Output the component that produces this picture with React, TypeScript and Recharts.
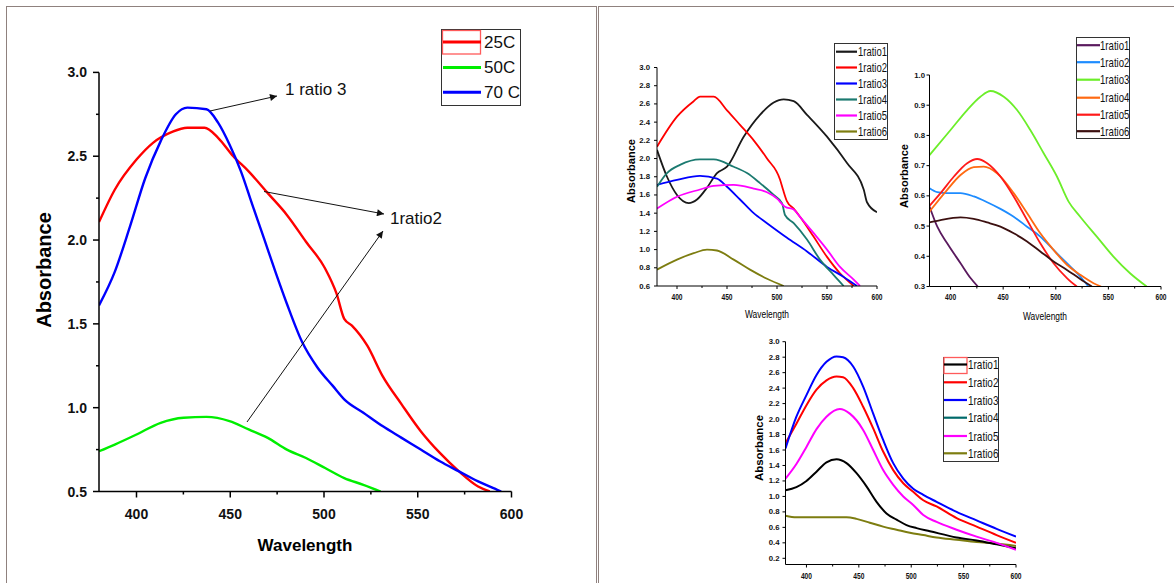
import React from 'react';
import { LineChart, Line, XAxis, YAxis, Legend } from 'recharts';

const PAGE_W = 1174;
const PAGE_H = 583;
const SANS = '"Liberation Sans", Arial, Helvetica, sans-serif';

// ---------- Panel A (temperature) ----------
const aNames = ['25C', '50C', '70 C'];
const aColors = ['#ff0000', '#00ee00', '#0000ff'];
const a25X = [380, 388.4, 400, 408.8, 419, 427.1, 436.3, 443.5, 451.6, 459.8, 470, 480.2, 490.4, 500.6, 506.7, 510.8, 514.9, 523.1, 531.2, 541.4, 551.6, 561.8, 572, 582.2, 588.4];
const a25Y = [2.107, 2.3, 2.48, 2.58, 2.645, 2.67, 2.67, 2.61, 2.5, 2.41, 2.28, 2.15, 1.99, 1.83, 1.68, 1.53, 1.49, 1.37, 1.19, 1.02, 0.86, 0.73, 0.62, 0.53, 0.5];
const a50X = [380, 388.4, 400, 412.9, 425.1, 437.3, 449.6, 459.8, 470, 480.2, 490.4, 500.6, 510.8, 521, 530.2];
const a50Y = [0.74, 0.78, 0.84, 0.91, 0.94, 0.945, 0.92, 0.87, 0.82, 0.75, 0.7, 0.64, 0.58, 0.54, 0.5];
const a70X = [380, 388.4, 396.5, 404.7, 412.9, 421, 427.1, 437.3, 443.5, 449.6, 455.7, 461.8, 468, 474.1, 480.2, 488.4, 496.5, 504.7, 510.8, 521, 531.2, 541.4, 551.6, 561.8, 572, 582.2, 592.4, 594.5];
const a70Y = [1.61, 1.81, 2.08, 2.37, 2.59, 2.75, 2.79, 2.78, 2.7, 2.57, 2.41, 2.21, 2.01, 1.81, 1.62, 1.39, 1.24, 1.13, 1.05, 0.97, 0.89, 0.82, 0.75, 0.68, 0.62, 0.56, 0.51, 0.5];
const aXMajor = [400, 450, 500, 550, 600];
const aXMinor = [425, 475, 525, 575];
const aYMajor = [0.5, 1.0, 1.5, 2.0, 2.5, 3.0];
const aYMinor = [0.75, 1.25, 1.75, 2.25, 2.75];

// ---------- Panel B (top middle) ----------
const bNames = ['1ratio1', '1ratio2', '1ratio3', '1ratio4', '1ratio5', '1ratio6'];
const bColors = ['#1a1a1a', '#ff0000', '#0000ff', '#1b7a70', '#ff00ff', '#7d7d10'];
const b1X = [380, 390, 400, 411.7, 420, 430, 440, 450, 466.7, 483, 496.7, 506.7, 516.7, 530, 550, 570, 586.7, 590, 600];
const b1Y = [2.095, 1.8, 1.6, 1.51, 1.55, 1.68, 1.84, 1.91, 2.24, 2.48, 2.615, 2.65, 2.63, 2.48, 2.24, 1.95, 1.66, 1.52, 1.41];
const b2X = [380, 400, 416.7, 423, 436.7, 450, 463, 476.7, 490, 503, 506, 510, 516.7, 523, 536.7, 550, 563, 576.7];
const b2Y = [2.13, 2.46, 2.63, 2.68, 2.68, 2.53, 2.37, 2.2, 2.0, 1.77, 1.66, 1.53, 1.45, 1.36, 1.14, 0.92, 0.74, 0.6];
const b3X = [380, 400, 423, 440, 450, 463, 476.7, 490, 510, 530, 550, 566.7, 580];
const b3Y = [1.71, 1.765, 1.81, 1.78, 1.69, 1.55, 1.4, 1.29, 1.13, 0.98, 0.81, 0.7, 0.6];
const b4X = [380, 390, 403, 423, 436.7, 456.7, 470, 483, 496.7, 505, 508, 516.7, 530, 543, 556.7, 566.7];
const b4Y = [1.69, 1.84, 1.93, 1.99, 1.99, 1.91, 1.84, 1.73, 1.6, 1.51, 1.38, 1.29, 1.11, 0.89, 0.72, 0.6];
const b5X = [380, 400, 423, 436.7, 456.7, 476.7, 490, 500, 508, 516.7, 523, 536.7, 550, 563, 576.7, 583];
const b5Y = [1.45, 1.58, 1.66, 1.7, 1.71, 1.67, 1.63, 1.56, 1.47, 1.44, 1.36, 1.18, 1.0, 0.81, 0.67, 0.6];
const b6X = [380, 400, 416.7, 430, 440, 456.7, 473, 490, 506.7];
const b6Y = [0.78, 0.89, 0.96, 1.0, 0.99, 0.89, 0.78, 0.68, 0.6];
const bYMajor = [0.6, 0.8, 1.0, 1.2, 1.4, 1.6, 1.8, 2.0, 2.2, 2.4, 2.6, 2.8, 3.0];

// ---------- Panel C (top right) ----------
const cNames = ['1ratio1', '1ratio2', '1ratio3', '1ratio4', '1ratio5', '1ratio6'];
const cColors = ['#5a1a5e', '#1e8cff', '#6cee2a', '#ff6a12', '#ff1a1a', '#3c1010'];
const c1X = [380, 387.4, 396.8, 409.5, 419, 425.9];
const c1Y = [0.565, 0.498, 0.443, 0.377, 0.328, 0.3];
const c2X = [380, 387.4, 396.8, 409.5, 422.1, 434.8, 447.4, 460, 472.7, 485.3, 497.9, 510.6, 523.2, 531];
const c2Y = [0.625, 0.612, 0.609, 0.609, 0.598, 0.579, 0.557, 0.531, 0.498, 0.465, 0.421, 0.377, 0.333, 0.3];
const c3X = [380, 400, 415.8, 428.4, 437.9, 450.6, 463.2, 475.8, 488.5, 501.1, 512.2, 523.2, 539, 554.8, 570.6, 586.4];
const c3Y = [0.735, 0.818, 0.884, 0.928, 0.947, 0.928, 0.884, 0.818, 0.741, 0.664, 0.581, 0.531, 0.465, 0.399, 0.344, 0.3];
const c4X = [380, 396.8, 409.5, 422.1, 431.6, 444.2, 460, 472.7, 485.3, 497.9, 510.6, 523.2, 535.9, 543];
const c4Y = [0.548, 0.62, 0.669, 0.695, 0.697, 0.675, 0.609, 0.543, 0.476, 0.421, 0.372, 0.339, 0.311, 0.3];
const c5X = [380, 390.5, 403.2, 415.8, 425.3, 434.8, 447.4, 460, 472.7, 485.3, 497.9, 510.6, 520];
const c5Y = [0.567, 0.609, 0.664, 0.708, 0.722, 0.708, 0.664, 0.598, 0.52, 0.443, 0.377, 0.328, 0.3];
const c6X = [380, 390.5, 409.5, 422.1, 434.8, 447.4, 460, 472.7, 485.3, 497.9, 510.6, 523.2, 534.3];
const c6Y = [0.512, 0.52, 0.529, 0.524, 0.512, 0.498, 0.476, 0.449, 0.416, 0.383, 0.355, 0.325, 0.3];
const cYMajor = [0.3, 0.4, 0.5, 0.6, 0.7, 0.8, 0.9, 1.0];

// ---------- Panel D (bottom) ----------
const dNames = ['1ratio1', '1ratio2', '1ratio3', '1ratio4', '1ratio5', '1ratio6'];
const dColors = ['#000000', '#ff0000', '#0000ff', '#006a6a', '#ff00ff', '#7d7d10'];
const d1X = [380, 390.4, 400, 409.6, 419.1, 428.7, 438.2, 447.8, 457.3, 466.9, 476.4, 486, 495.5, 505.1, 517.8, 543.3, 562.4, 581.5, 600];
const d1Y = [1.08, 1.12, 1.2, 1.32, 1.44, 1.48, 1.43, 1.3, 1.13, 0.93, 0.78, 0.7, 0.63, 0.59, 0.55, 0.47, 0.43, 0.38, 0.33];
const d23X = [380, 390.4, 400, 409.6, 419.1, 428.7, 435, 444.6, 454.1, 463.7, 473.2, 482.8, 492.4, 501.9, 511.5, 524.2, 543.3, 562.4, 581.5, 600];
const d2Y = [1.69, 1.94, 2.18, 2.38, 2.5, 2.55, 2.54, 2.4, 2.16, 1.88, 1.58, 1.34, 1.17, 1.06, 0.95, 0.87, 0.72, 0.61, 0.5, 0.4];
const d3Y = [1.62, 2.03, 2.31, 2.57, 2.74, 2.81, 2.8, 2.68, 2.42, 2.07, 1.73, 1.43, 1.23, 1.1, 1.02, 0.93, 0.8, 0.69, 0.58, 0.48];
const d4X: number[] = [];
const d4Y: number[] = [];
const d5X = [380, 390.4, 400, 409.6, 419.1, 431.8, 441.4, 454.1, 463.7, 473.2, 482.8, 492.4, 501.9, 511.5, 524.2, 543.3, 562.4, 581.5, 600];
const d5Y = [1.23, 1.42, 1.64, 1.87, 2.03, 2.13, 2.07, 1.86, 1.6, 1.34, 1.15, 1.0, 0.89, 0.76, 0.67, 0.57, 0.48, 0.4, 0.31];
const d6X = [380, 390.4, 409.6, 438.2, 447.8, 460.5, 473.2, 486, 498.7, 511.5, 524.2, 543.3, 562.4, 581.5, 600];
const d6Y = [0.75, 0.73, 0.73, 0.73, 0.71, 0.66, 0.61, 0.57, 0.53, 0.5, 0.47, 0.44, 0.41, 0.39, 0.36];
const dYMajor = [0.2, 0.4, 0.6, 0.8, 1.0, 1.2, 1.4, 1.6, 1.8, 2.0, 2.2, 2.4, 2.6, 2.8, 3.0];

const smallXMajor = [400, 450, 500, 550, 600];
const smallXMinor = [425, 475, 525, 575];

const pts = (xs: number[], ys: number[]) => xs.map((x, i) => ({ x, y: ys[i] }));

type Series = { name: string; color: string; data: { x: number; y: number }[] };

const AxisTitle = (p: any) => (
  <text
    x={p.px}
    y={p.py}
    transform={p.rot ? `rotate(-90 ${p.px} ${p.py})` : undefined}
    textAnchor="middle"
    dominantBaseline="central"
    fontFamily={p.ff}
    fontSize={p.fs}
    fontWeight={p.fw}
    textLength={p.tl}
    lengthAdjust={p.tl ? 'spacingAndGlyphs' : undefined}
    fill="#000"
  >
    {p.txt}
  </text>
);

const LegendBox = (p: any) => {
  const { x, y, w, h, names, colors, rows, sx1, sx2, tx, fs, ff, lw, boxFirst, tw } = p;
  return (
    <svg width={w} height={h} style={{ display: 'block', overflow: 'visible' }}>
      <rect x={0.5} y={0.5} width={w - 1} height={h - 1} fill="#fff" stroke="#333" strokeWidth={1} />
      {boxFirst && (
        <rect x={boxFirst[0] - x} y={boxFirst[1] - y} width={boxFirst[2]} height={boxFirst[3]} fill="none" stroke="#ff5a5a" strokeWidth={1.3} />
      )}
      {names.map((n: string, i: number) => (
        <g key={n + i}>
          <line x1={sx1 - x} x2={sx2 - x} y1={rows[i] - y} y2={rows[i] - y} stroke={colors[i]} strokeWidth={lw} />
          <text
            x={tx - x}
            y={rows[i] - y}
            dominantBaseline="central"
            fontFamily={ff}
            fontSize={fs}
            fill="#111"
            textLength={tw ? tw * n.length : undefined}
            lengthAdjust={tw ? 'spacingAndGlyphs' : undefined}
          >
            {n}
          </text>
        </g>
      ))}
    </svg>
  );
};

function Panel(props: any) {
  const {
    L, R, T, B, yDomain, xMajor, xMinor, yMajor, yMinor, series, lineW, axisW,
    majLen, minLen, yGap, xDy, yFont, xFont, yDec, yTitle, xTitle, legend,
  } = props;
  const isMajor = (arr: number[], v: number) => arr.some((m) => Math.abs(m - v) < 1e-9);
  const yTick = (p: any) => {
    const v = p.payload.value;
    const mj = isMajor(yMajor, v);
    const label = v.toFixed(yDec);
    return (
      <g>
        <line x1={p.x - (mj ? majLen : minLen)} x2={p.x} y1={p.y} y2={p.y} stroke="#000" strokeWidth={axisW} />
        {mj && (
          <text
            x={p.x - yGap}
            y={p.y}
            textAnchor="end"
            dominantBaseline="central"
            fontFamily={yFont.ff}
            fontSize={yFont.fs}
            fontWeight={yFont.fw}
            textLength={yFont.cw ? yFont.cw * label.length : undefined}
            lengthAdjust={yFont.cw ? 'spacingAndGlyphs' : undefined}
            fill="#111"
          >
            {label}
          </text>
        )}
      </g>
    );
  };
  const xTick = (p: any) => {
    const v = p.payload.value;
    const mj = isMajor(xMajor, v);
    const label = String(v);
    return (
      <g>
        <line x1={p.x} x2={p.x} y1={p.y} y2={p.y + (mj ? majLen : minLen)} stroke="#000" strokeWidth={axisW} />
        {mj && (
          <text
            x={p.x}
            y={p.y + xDy}
            textAnchor="middle"
            dominantBaseline="central"
            fontFamily={xFont.ff}
            fontSize={xFont.fs}
            fontWeight={xFont.fw}
            textLength={xFont.cw ? xFont.cw * label.length : undefined}
            lengthAdjust={xFont.cw ? 'spacingAndGlyphs' : undefined}
            fill="#111"
          >
            {label}
          </text>
        )}
      </g>
    );
  };
  return (
    <div style={{ position: 'absolute', left: 0, top: 0 }}>
      <LineChart width={PAGE_W} height={PAGE_H} margin={{ top: T, right: PAGE_W - R, bottom: 0, left: 0 }}>
        <XAxis
          type="number"
          dataKey="x"
          domain={[380, 600]}
          allowDataOverflow
          ticks={[...xMajor, ...xMinor]}
          interval={0}
          tick={xTick}
          tickLine={false}
          tickSize={0}
          tickMargin={0}
          height={PAGE_H - B}
          axisLine={{ stroke: '#000', strokeWidth: axisW }}
          label={xTitle ? <AxisTitle {...xTitle} /> : undefined}
        />
        <YAxis
          type="number"
          domain={yDomain}
          allowDataOverflow
          ticks={[...yMajor, ...yMinor]}
          interval={0}
          tick={yTick}
          tickLine={false}
          tickSize={0}
          tickMargin={0}
          width={L}
          axisLine={{ stroke: '#000', strokeWidth: axisW }}
          label={yTitle ? <AxisTitle {...yTitle} rot /> : undefined}
        />
        {series.map((s: Series) => (
          <Line
            key={s.name}
            name={s.name}
            data={s.data}
            dataKey="y"
            type="monotone"
            stroke={s.color}
            strokeWidth={lineW}
            dot={false}
            activeDot={false}
            isAnimationActive={false}
          />
        ))}
        {legend && (
          <Legend
            layout="horizontal"
            verticalAlign="middle"
            align="center"
            wrapperStyle={{ left: legend.x, top: legend.y, width: legend.w, height: legend.h }}
            content={() => <LegendBox {...legend} />}
          />
        )}
      </LineChart>
    </div>
  );
}

const Border = ({ x, y, w, h }: any) => (
  <div style={{ position: 'absolute', left: x, top: y, width: w, height: h, background: '#8f817e' }} />
);

export default function App() {
  const aSeries: Series[] = [
    { name: aNames[0], color: aColors[0], data: pts(a25X, a25Y) },
    { name: aNames[1], color: aColors[1], data: pts(a50X, a50Y) },
    { name: aNames[2], color: aColors[2], data: pts(a70X, a70Y) },
  ];
  const bXs = [b1X, b2X, b3X, b4X, b5X, b6X];
  const bYs = [b1Y, b2Y, b3Y, b4Y, b5Y, b6Y];
  const bSeries: Series[] = bNames.map((n, i) => ({ name: n, color: bColors[i], data: pts(bXs[i], bYs[i]) }));
  const cXs = [c1X, c2X, c3X, c4X, c5X, c6X];
  const cYs = [c1Y, c2Y, c3Y, c4Y, c5Y, c6Y];
  const cSeries: Series[] = cNames.map((n, i) => ({ name: n, color: cColors[i], data: pts(cXs[i], cYs[i]) }));
  const dXs = [d1X, d23X, d23X, d4X, d5X, d6X];
  const dYs = [d1Y, d2Y, d3Y, d4Y, d5Y, d6Y];
  const dSeries: Series[] = dNames.map((n, i) => ({ name: n, color: dColors[i], data: pts(dXs[i], dYs[i]) }));
  // draw order in D: olive, black, magenta, red, blue on top
  const dOrdered = [dSeries[5], dSeries[0], dSeries[4], dSeries[1], dSeries[2], dSeries[3]];

  const smallY = { ff: SANS, fs: 8, fw: 700, cw: 3.6 };
  const smallX = { ff: SANS, fs: 8.5, fw: 700, cw: 3.7 };

  return (
    <div style={{ position: 'absolute', left: 0, top: 0, width: PAGE_W, height: PAGE_H, background: '#fff', overflow: 'hidden' }}>
      {/* frame lines */}
      <Border x={6} y={6} w={591} h={1} />
      <Border x={6} y={6} w={1} h={577} />
      <Border x={596} y={6} w={1} h={577} />
      <Border x={598} y={6} w={1} h={577} />
      <Border x={598} y={6} w={576} h={1} />

      <Panel
        L={99} R={511.5} T={72.4} B={491.5}
        yDomain={[0.5, 3.0]}
        xMajor={aXMajor} xMinor={aXMinor} yMajor={aYMajor} yMinor={aYMinor}
        series={aSeries} lineW={2.4} axisW={1.5}
        majLen={6} minLen={3} yGap={12} xDy={22.5}
        yFont={{ ff: SANS, fs: 14, fw: 700 }} xFont={{ ff: SANS, fs: 14, fw: 700 }} yDec={1}
        yTitle={{ px: 44, py: 270, txt: 'Absorbance', fs: 20, fw: 700, ff: SANS }}
        xTitle={{ px: 305, py: 545, txt: 'Wavelength', fs: 17, fw: 700, ff: SANS }}
        legend={{
          x: 441, y: 29, w: 80, h: 77, names: aNames, colors: aColors, rows: [42, 67.5, 92.3],
          sx1: 443, sx2: 481, tx: 484, fs: 17, ff: SANS, lw: 3, boxFirst: [442.5, 30.5, 38, 23.5],
        }}
      />

      <Panel
        L={657} R={877} T={67.5} B={286}
        yDomain={[0.6, 3.0]}
        xMajor={smallXMajor} xMinor={smallXMinor} yMajor={bYMajor} yMinor={[]}
        series={bSeries} lineW={1.8} axisW={1}
        majLen={3} minLen={2} yGap={7} xDy={11}
        yFont={smallY} xFont={smallX} yDec={1}
        yTitle={{ px: 631, py: 171, txt: 'Absorbance', fs: 11, fw: 700, ff: SANS, tl: 64 }}
        xTitle={{ px: 767, py: 314, txt: 'Wavelength', fs: 10.5, fw: 400, ff: SANS, tl: 44 }}
        legend={{
          x: 834, y: 43, w: 54, h: 97, names: bNames, colors: bColors,
          rows: [51.7, 67.5, 83.5, 99.5, 115.5, 131.5],
          sx1: 836, sx2: 857, tx: 858, fs: 12.5, ff: SANS, lw: 2.2, tw: 4.15,
        }}
      />

      <Panel
        L={929.5} R={1161} T={75} B={286.5}
        yDomain={[0.3, 1.0]}
        xMajor={smallXMajor} xMinor={smallXMinor} yMajor={cYMajor} yMinor={[]}
        series={cSeries} lineW={1.8} axisW={1}
        majLen={3} minLen={2} yGap={4.5} xDy={10.5}
        yFont={smallY} xFont={smallX} yDec={1}
        yTitle={{ px: 904, py: 176, txt: 'Absorbance', fs: 11, fw: 700, ff: SANS, tl: 64 }}
        xTitle={{ px: 1045, py: 316, txt: 'Wavelength', fs: 10.5, fw: 400, ff: SANS, tl: 44 }}
        legend={{
          x: 1076, y: 37.3, w: 54, h: 102, names: cNames, colors: cColors,
          rows: [45.5, 62.5, 80, 98, 115, 131.5],
          sx1: 1077, sx2: 1100, tx: 1100, fs: 13, ff: SANS, lw: 2.2, tw: 4.2,
        }}
      />

      <Panel
        L={785.5} R={1016} T={341.7} B={564.5}
        yDomain={[0.12, 3.0]}
        xMajor={smallXMajor} xMinor={smallXMinor} yMajor={dYMajor} yMinor={[]}
        series={dOrdered} lineW={2} axisW={1}
        majLen={3} minLen={2} yGap={6} xDy={11.5}
        yFont={smallY} xFont={smallX} yDec={1}
        yTitle={{ px: 759, py: 448, txt: 'Absorbance', fs: 11, fw: 700, ff: SANS, tl: 66 }}
        legend={{
          x: 943, y: 357, w: 56, h: 105, names: dNames, colors: dColors,
          rows: [364.5, 382.3, 400, 417.7, 436, 453.3],
          sx1: 944, sx2: 967, tx: 968, fs: 13, ff: SANS, lw: 2.2, tw: 4.35,
          boxFirst: [944, 357.5, 23, 16],
        }}
      />

      {/* annotations on the temperature panel */}
      <svg width={PAGE_W} height={PAGE_H} style={{ position: 'absolute', left: 0, top: 0 }}>
        <defs>
          <marker id="arrowHead" viewBox="0 0 10 10" refX="10" refY="5" markerWidth="9" markerHeight="7" markerUnits="userSpaceOnUse" orient="auto">
            <path d="M0,0 L10,5 L0,10 z" fill="#111" />
          </marker>
        </defs>
        <line x1={210} y1={111} x2={277} y2={96} stroke="#111" strokeWidth={1} markerEnd="url(#arrowHead)" />
        <line x1={264} y1={191.5} x2={384} y2={214} stroke="#111" strokeWidth={1} markerEnd="url(#arrowHead)" />
        <line x1={247} y1={422} x2={383} y2={231} stroke="#111" strokeWidth={1} markerEnd="url(#arrowHead)" />
        <text x={285} y={89.5} dominantBaseline="central" fontFamily={SANS} fontSize={17} fill="#111">1 ratio 3</text>
        <text x={390} y={218.5} dominantBaseline="central" fontFamily={SANS} fontSize={17} fill="#111">1ratio2</text>
      </svg>
    </div>
  );
}
